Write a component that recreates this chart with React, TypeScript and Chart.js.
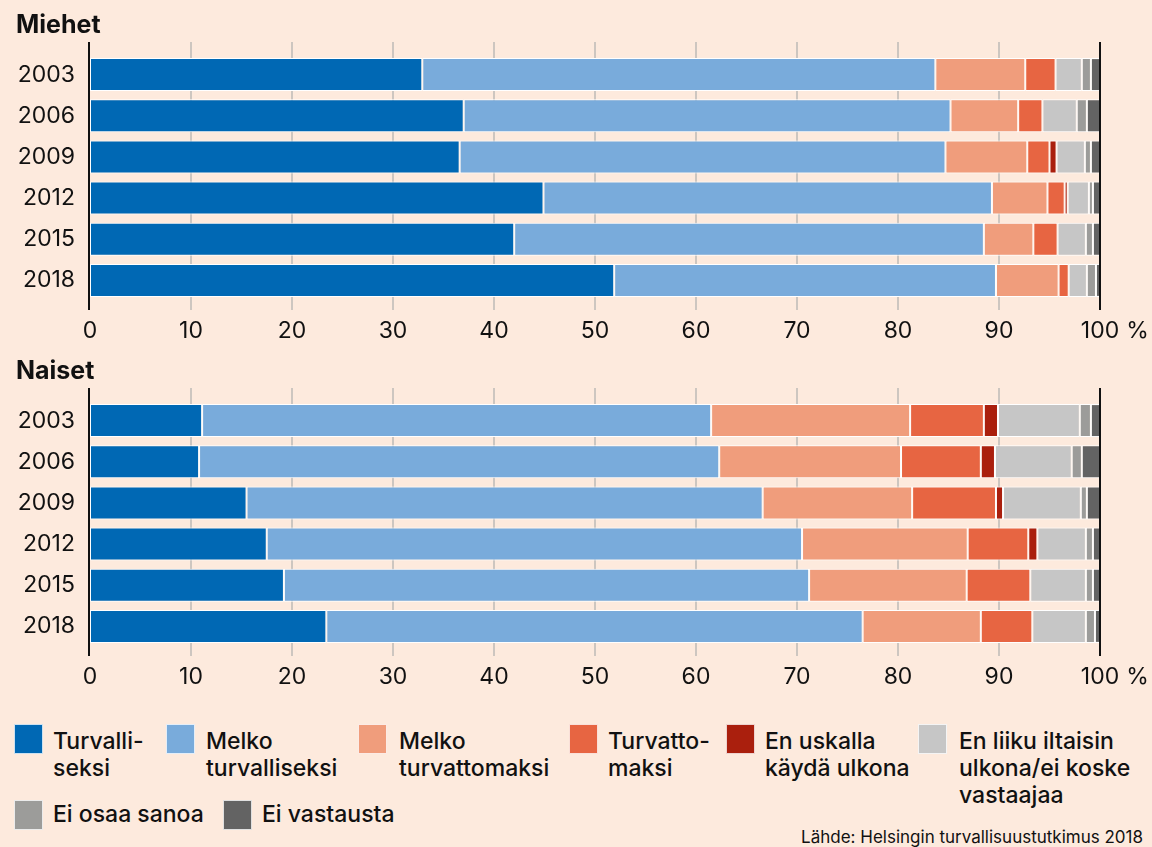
import React, { useEffect, useRef } from 'react';
import { Chart, registerables } from 'chart.js';

Chart.register(...registerables);

// ---------- DATA ----------
const years = ['2003', '2006', '2009', '2012', '2015', '2018'];
const xTickValues = [0, 10, 20, 30, 40, 50, 60, 70, 80, 90, 100];

const seriesLabels = [
  'Turvalliseksi',
  'Melko turvalliseksi',
  'Melko turvattomaksi',
  'Turvattomaksi',
  'En uskalla käydä ulkona',
  'En liiku iltaisin ulkona/ei koske vastaajaa',
  'Ei osaa sanoa',
  'Ei vastausta',
];
const legendLines = [
  ['Turvalli-', 'seksi'],
  ['Melko', 'turvalliseksi'],
  ['Melko', 'turvattomaksi'],
  ['Turvatto-', 'maksi'],
  ['En uskalla', 'käydä ulkona'],
  ['En liiku iltaisin', 'ulkona/ei koske', 'vastaajaa'],
  ['Ei osaa sanoa'],
  ['Ei vastausta'],
];

// Miehet (men)
const menTurvalliseksi = [32.9, 37.0, 36.6, 44.9, 42.0, 51.9];
const menMelkoTurvalliseksi = [50.8, 48.2, 48.1, 44.4, 46.5, 37.8];
const menMelkoTurvattomaksi = [8.9, 6.7, 8.1, 5.5, 4.9, 6.2];
const menTurvattomaksi = [3.0, 2.4, 2.2, 1.7, 2.4, 1.0];
const menEnUskalla = [0, 0, 0.7, 0.3, 0, 0];
const menEnLiiku = [2.6, 3.4, 2.8, 2.1, 2.8, 1.8];
const menEiOsaa = [0.9, 1.0, 0.6, 0.4, 0.7, 0.9];
const menEiVastausta = [0.9, 1.3, 0.9, 0.7, 0.7, 0.4];

// Naiset (women)
const womenTurvalliseksi = [11.1, 10.8, 15.5, 17.5, 19.2, 23.4];
const womenMelkoTurvalliseksi = [50.4, 51.5, 51.1, 53.0, 52.0, 53.1];
const womenMelkoTurvattomaksi = [19.7, 18.0, 14.8, 16.4, 15.6, 11.7];
const womenTurvattomaksi = [7.3, 7.9, 8.3, 6.0, 6.3, 5.1];
const womenEnUskalla = [1.4, 1.4, 0.7, 0.9, 0, 0];
const womenEnLiiku = [8.1, 7.6, 7.7, 4.8, 5.5, 5.3];
const womenEiOsaa = [1.1, 1.0, 0.6, 0.7, 0.7, 0.9];
const womenEiVastausta = [0.9, 1.8, 1.3, 0.7, 0.7, 0.5];

const menSeries = [
  menTurvalliseksi, menMelkoTurvalliseksi, menMelkoTurvattomaksi, menTurvattomaksi,
  menEnUskalla, menEnLiiku, menEiOsaa, menEiVastausta,
];
const womenSeries = [
  womenTurvalliseksi, womenMelkoTurvalliseksi, womenMelkoTurvattomaksi, womenTurvattomaksi,
  womenEnUskalla, womenEnLiiku, womenEiOsaa, womenEiVastausta,
];

// ---------- STYLE ----------
const COLORS = ['#0068b4', '#79abdb', '#f09d7c', '#e76542', '#aa1f0d', '#c6c6c6', '#9c9c9a', '#636363'];
const BG = '#fdeadd';
const GRID = '#cdc6c0';
const INK = '#111111';
const FONT = 'Inter';

const gridPlugin = {
  id: 'customGrid',
  beforeDatasetsDraw(chart: any) {
    const { ctx, chartArea, scales } = chart;
    const x = scales.x;
    ctx.save();
    ctx.lineWidth = 2;
    ctx.strokeStyle = GRID;
    x.ticks.forEach((t: any) => {
      if (t.value <= 0 || t.value >= 100) return;
      const px = Math.round(x.getPixelForValue(t.value));
      ctx.beginPath();
      ctx.moveTo(px, chartArea.top - 12);
      ctx.lineTo(px, chartArea.bottom + 9);
      ctx.stroke();
    });
    ctx.restore();
  },
  afterDatasetsDraw(chart: any) {
    const { ctx, chartArea, scales } = chart;
    const x = scales.x;
    ctx.save();
    ctx.lineWidth = 2;
    ctx.strokeStyle = INK;
    const p0 = Math.round(x.getPixelForValue(0)) - 1;
    const p100 = Math.round(x.getPixelForValue(100));
    [p0, p100].forEach((px) => {
      ctx.beginPath();
      ctx.moveTo(px, chartArea.top - 12);
      ctx.lineTo(px, chartArea.bottom + 9);
      ctx.stroke();
    });
    ctx.restore();
  },
  afterDraw(chart: any) {
    const { ctx, chartArea, scales } = chart;
    const x = scales.x;
    ctx.save();
    ctx.font = `23px ${FONT}`;
    ctx.fillStyle = INK;
    ctx.textBaseline = 'middle';
    ctx.textAlign = 'left';
    const half = ctx.measureText('100').width / 2;
    ctx.fillText('%', x.getPixelForValue(100) + half + 7, chartArea.bottom + 30);
    ctx.restore();
  },
};

function Panel({ series, top, title }: { series: number[][]; top: number; title: string }) {
  const ref = useRef<HTMLCanvasElement | null>(null);
  useEffect(() => {
    if (!ref.current) return;
    const chart = new Chart(ref.current, {
      type: 'bar',
      data: {
        labels: years,
        datasets: series.map((d, i) => ({
          label: seriesLabels[i],
          data: d,
          backgroundColor: COLORS[i],
          borderColor: '#ffffff',
          borderWidth: 1,
          borderSkipped: false,
          categoryPercentage: 1,
          barPercentage: 0.8,
          stack: 's',
        })),
      },
      options: {
        indexAxis: 'y',
        responsive: false,
        animation: false,
        events: [],
        layout: { padding: { top: 54, right: 52, bottom: 0, left: 0 } },
        plugins: { legend: { display: false }, tooltip: { enabled: false }, title: { display: false } },
        scales: {
          x: {
            type: 'linear',
            stacked: true,
            min: 0,
            max: 100,
            afterBuildTicks: (s: any) => {
              s.ticks = xTickValues.map((v) => ({ value: v }));
            },
            afterFit: (s: any) => {
              s.height = 45;
            },
            grid: { display: false, drawTicks: false },
            border: { display: false },
            ticks: {
              padding: 16,
              color: INK,
              font: { family: FONT, size: 23 },
              maxRotation: 0,
              callback: (v: any) => String(v),
            },
          },
          y: {
            type: 'category',
            stacked: true,
            afterFit: (s: any) => {
              s.width = 90;
            },
            grid: { display: false, drawTicks: false },
            border: { display: false },
            ticks: {
              padding: 15,
              color: INK,
              font: { family: FONT, size: 23 },
            },
          },
        },
      },
      plugins: [gridPlugin],
    } as any);
    return () => chart.destroy();
  }, [series]);
  return (
    <div style={{ position: 'absolute', left: 0, top, width: 1152, height: 346 }}>
      <canvas ref={ref} width={1152} height={346} style={{ display: 'block', width: 1152, height: 346 }} />
      <div
        style={{
          position: 'absolute',
          left: 16,
          top: 9,
          font: `700 25px/30px ${FONT}`,
          color: INK,
          whiteSpace: 'nowrap',
        }}
      >
        {title}
      </div>
    </div>
  );
}

const legendPos = [
  { sq: 14, tx: 53, row: 0 },
  { sq: 166, tx: 206, row: 0 },
  { sq: 358, tx: 399, row: 0 },
  { sq: 569, tx: 608, row: 0 },
  { sq: 726, tx: 765, row: 0 },
  { sq: 918, tx: 959, row: 0 },
  { sq: 14, tx: 53, row: 1 },
  { sq: 223, tx: 262, row: 1 },
];

export default function App() {
  useEffect(() => {
    document.body.style.margin = '0';
    document.body.style.background = BG;
  }, []);
  return (
    <div
      style={{
        position: 'absolute',
        left: 0,
        top: 0,
        width: 1152,
        height: 847,
        background: BG,
        overflow: 'hidden',
        fontFamily: FONT,
      }}
    >
      <Panel series={menSeries} top={0} title="Miehet" />
      <Panel series={womenSeries} top={346} title="Naiset" />
      {legendPos.map((p, i) => {
        const sqTop = p.row === 0 ? 724 : 800;
        const txTop = p.row === 0 ? 728 : 801;
        return (
          <React.Fragment key={i}>
            <div
              style={{
                position: 'absolute',
                left: p.sq,
                top: sqTop,
                width: 29,
                height: 30,
                boxSizing: 'border-box',
                border: '1px solid rgba(255,255,255,0.8)',
                background: COLORS[i],
              }}
            />
            <div
              style={{
                position: 'absolute',
                left: p.tx,
                top: txTop,
                font: `500 23px/27px ${FONT}`,
                color: INK,
                whiteSpace: 'nowrap',
              }}
            >
              {legendLines[i].map((l, j) => (
                <div key={j}>{l}</div>
              ))}
            </div>
          </React.Fragment>
        );
      })}
      <div
        style={{
          position: 'absolute',
          right: 9,
          top: 827,
          font: `400 17px/20px ${FONT}`,
          color: INK,
          whiteSpace: 'nowrap',
        }}
      >
        Lähde: Helsingin turvallisuustutkimus 2018
      </div>
    </div>
  );
}
